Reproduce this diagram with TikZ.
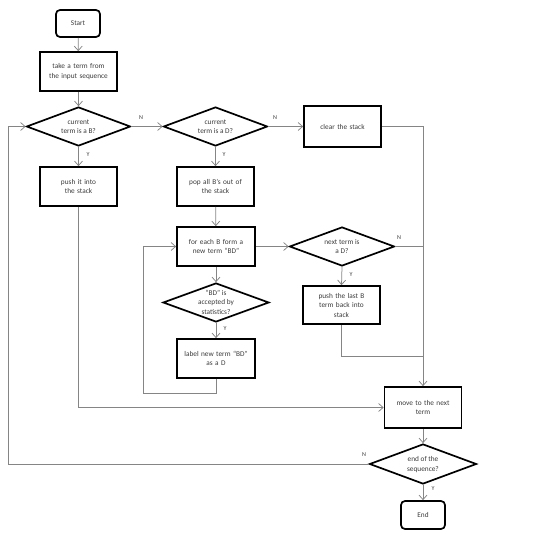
\documentclass[tikz,border=0pt]{standalone}
\usepackage{fontspec}
\setmainfont{Carlito}
\usetikzlibrary{shapes.geometric,arrows.meta}
\definecolor{linegray}{HTML}{858585}
\definecolor{txt}{HTML}{3A3A3A}
\newcommand{\dtext}[1]{\raisebox{-2.3pt}[0pt][0pt]{\makebox[0pt]{\begin{tabular}{@{}c@{}}#1\end{tabular}}}}
\begin{document}
\begin{tikzpicture}[x=1pt,y=-1pt,
  font=\fontsize{7.3}{9.5}\selectfont, text=txt,
  boxnode/.style={draw=black, line width=1.7pt, rectangle, minimum width=77pt, minimum height=39pt, inner sep=0pt, text width=70pt, align=center},
  termnode/.style={draw=black, line width=1.7pt, rectangle, rounded corners=4pt, minimum width=44pt, minimum height=27pt, inner sep=0pt},
  dianode/.style={draw=black, line width=1.7pt, diamond, inner sep=0pt, minimum width=104pt, minimum height=39pt},
  conn/.style={draw=linegray, line width=0.75pt},
  arr/.style={conn, -{Straight Barb[length=4.5pt,width=8pt]}},
  yn/.style={font=\fontsize{6}{7}\selectfont, text=txt, inner sep=0pt}
]
\useasboundingbox (0,0) rectangle (533,540);

\node[termnode] (start) at (78,23.5) {Start};
\node[boxnode] (take) at (78.5,71.5) {take a term from\\the input sequence};
\node[dianode] (d1) at (78.5,126.5) {\dtext{current\\term is a B?}};
\node[dianode] (d2) at (215.5,126.5) {\dtext{current\\term is a D?}};
\node[boxnode, minimum height=41pt] (clear) at (342.5,126.5) {clear the stack};
\node[boxnode] (push) at (78.5,186.5) {push it into\\the stack};
\node[boxnode] (pop) at (215.5,186.5) {pop all B's out of\\the stack};
\node[boxnode, minimum width=78pt] (foreach) at (216,246.5) {for each B form a\\new term ``BD''};
\node[dianode, minimum width=105pt] (nextd) at (342,246.5) {\dtext{next term is\\a D?}};
\node[dianode, minimum width=106pt] (bd) at (216,302.5) {\dtext{``BD'' is\\accepted by\\statistics?}};
\node[boxnode, minimum height=38pt] (pushlast) at (341.5,305) {push the last B\\term back into\\stack};
\node[boxnode, minimum width=78pt] (lab) at (216,358.5) {label new term ``BD''\\as a D};
\node[boxnode, minimum height=41pt] (move) at (423,407.5) {move to the next\\term};
\node[dianode, minimum width=107pt, minimum height=40pt] (endq) at (423,464) {\dtext{end of the\\sequence?}};
\node[termnode, minimum height=28pt] (end) at (423,515) {End};

\coordinate (cr) at (423,126.5);
\coordinate (nr) at (423,246.5);
\coordinate (pl) at (341.5,356);
\coordinate (plr) at (423,356);
\coordinate (lb) at (216,393);
\coordinate (lbl) at (143,393);
\coordinate (lbu) at (143,246.5);
\coordinate (pb) at (78.5,407.5);
\coordinate (el) at (8,464);
\coordinate (eu) at (8,126.5);

\draw[arr] (start) -- (take);
\draw[arr] (take) -- (d1);
\draw[arr] (d1.east) -- (d2.west);
\draw[arr] (d1.south) -- (push.north);
\draw[arr] (d2.east) -- (clear.west);
\draw[arr] (d2.south) -- (pop.north);
\draw[arr] (pop) -- (foreach);
\draw[arr] (clear.east) -- (cr) -- (move.north);
\draw[arr] (foreach.east) -- (nextd.west);
\draw[conn] (nextd.east) -- (nr);
\draw[arr] (nextd.south) -- (pushlast.north);
\draw[conn] (pushlast.south) -- (pl) -- (plr);
\draw[arr] (foreach.south) -- (bd.north);
\draw[arr] (bd.south) -- (lab.north);
\draw[arr] (lab.south) -- (lb) -- (lbl) -- (lbu) -- (foreach.west);
\draw[arr] (push.south) -- (pb) -- (move.west);
\draw[arr] (move.south) -- (endq.north);
\draw[arr] (endq.west) -- (el) -- (eu) -- (d1.west);
\draw[arr] (endq.south) -- (end.north);

\node[yn] (n1) at (141,118) {N};
\node[yn] (n2) at (275,118) {N};
\node[yn] (n3) at (399,238) {N};
\node[yn] (n4) at (364,455) {N};
\node[yn] (y1) at (88,155) {Y};
\node[yn] (y2) at (224,155) {Y};
\node[yn] (y3) at (225,329) {Y};
\node[yn] (y4) at (351,275) {Y};
\node[yn] (y5) at (433,489) {Y};
\end{tikzpicture}
\end{document}
